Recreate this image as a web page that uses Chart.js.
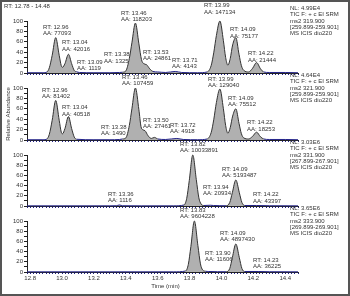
<!DOCTYPE html>
<html>
<head>
<meta charset="utf-8">
<script src="https://cdn.jsdelivr.net/npm/chart.js@4/dist/chart.umd.min.js"></script>
<style>
  html, body { margin: 0; padding: 0; background: #fff; }
  #wrap { position: relative; width: 350px; height: 296px; overflow: hidden; }
  #wrap canvas { position: absolute; left: 0; top: 0; }
  #frame { position: absolute; left: 0; top: 0; width: 350px; height: 296px; box-sizing: border-box; border: 2px solid #555; }
</style>
</head>
<body>
<div id="wrap">
  <canvas id="c1" width="350" height="296"></canvas>
  <canvas id="c2" width="350" height="296"></canvas>
  <canvas id="c3" width="350" height="296"></canvas>
  <canvas id="c4" width="350" height="296"></canvas>
  <div id="frame"></div>
</div>
<script>
// time window (min) and relative abundance range
const timeRange = [12.78, 14.48];
const yRange = [0, 100];

// traces: [time, relative abundance %]
const trace1 = [[12.78,0.5],[12.88,0.5],[12.905,2],[12.92,10],[12.938,34],[12.96,68],[12.982,34],[12.995,14],[13.003,11],
  [13.018,18],[13.04,36],[13.06,18],[13.076,5],[13.09,2.5],[13.11,1],[13.2,0.5],[13.3,0.5],[13.36,1],[13.38,1.5],
  [13.4,4],[13.422,28],[13.438,58],[13.46,96],[13.482,56],[13.498,26],[13.512,18],[13.53,16],[13.55,8],[13.57,3],[13.6,2],
  [13.65,1],[13.71,3],[13.75,1],[13.85,0.5],[13.91,2],[13.935,14],[13.952,40],[13.968,72],[13.99,100],[14.012,62],
  [14.026,30],[14.04,15],[14.055,28],[14.07,54],[14.09,68],[14.11,36],[14.125,14],[14.14,5],[14.17,2],[14.195,9],
  [14.22,20],[14.245,8],[14.265,2],[14.3,1],[14.4,1],[14.48,0.5]];
const trace2 = [[12.78,0.5],[12.88,0.5],[12.905,2],[12.92,11],[12.938,38],[12.96,76],[12.982,38],[12.995,15],[13.003,12],
  [13.018,22],[13.04,45],[13.06,22],[13.076,6],[13.09,1.5],[13.2,0.5],[13.3,0.5],[13.36,1],[13.38,2],[13.4,4],[13.422,28],
  [13.438,60],[13.46,100],[13.482,58],[13.495,26],[13.505,20],[13.52,18],[13.54,8],[13.56,3],[13.58,5],[13.6,2],[13.65,1],
  [13.72,3],[13.76,1],[13.85,0.5],[13.91,2],[13.935,14],[13.952,40],[13.968,72],[13.99,98],[14.012,60],[14.026,28],
  [14.04,13],[14.055,24],[14.07,46],[14.09,60],[14.11,32],[14.125,12],[14.14,4],[14.17,2],[14.195,7],[14.22,15],
  [14.245,6],[14.265,2],[14.3,1],[14.4,1],[14.48,0.5]];
const trace3 = [[12.78,0.3],[13.0,0.3],[13.3,0.3],[13.34,0.5],[13.36,2],[13.38,0.5],[13.5,0.3],[13.7,0.3],[13.765,2],
  [13.782,15],[13.798,50],[13.82,100],[13.842,52],[13.858,16],[13.872,4],[13.89,1],[13.93,1.5],[13.95,1],[14.03,0.5],
  [14.052,7],[14.068,26],[14.09,51],[14.112,26],[14.128,7],[14.145,1],[14.22,1],[14.3,0.5],[14.48,0.3]];
const trace4 = [[12.78,0.3],[13.3,0.3],[13.7,0.3],[13.775,2],[13.792,15],[13.808,50],[13.83,100],[13.852,52],[13.868,16],
  [13.882,4],[13.9,1.5],[13.92,1],[14.03,0.5],[14.052,7],[14.068,28],[14.09,55],[14.112,28],[14.128,7],[14.145,1],[14.23,1],
  [14.3,0.5],[14.48,0.3]];

// peak labels: [rt text, area text, anchor time, anchor abundance]
const peaks1 = [['RT: 12.96','AA: 77093',12.88,88],['RT: 13.04','AA: 42016',13.0,58],['RT: 13.09','AA: 1119',13.094,21],
  ['RT: 13.38','AA: 1325',13.263,35],['RT: 13.46','AA: 118203',13.37,115],['RT: 13.53','AA: 24861',13.508,40],
  ['RT: 13.71','AA: 4143',13.69,25],['RT: 13.99','AA: 147134',13.89,130],['RT: 14.09','AA: 75177',14.054,83],
  ['RT: 14.22','AA: 21444',14.166,37]];
const peaks2 = [['RT: 12.96','AA: 81402',12.874,96],['RT: 13.04','AA: 40518',13.0,62],['RT: 13.38','AA: 1490',13.244,25],
  ['RT: 13.46','AA: 107459',13.376,121],['RT: 13.50','AA: 27461',13.508,38],['RT: 13.72','AA: 4918',13.677,29],
  ['RT: 13.99','AA: 129040',13.915,117],['RT: 14.09','AA: 75512',14.041,81],['RT: 14.22','AA: 18253',14.16,33]];
const peaks3 = [['RT: 13.82','AA: 10033891',13.74,121],['RT: 13.36','AA: 1116',13.288,23],['RT: 13.94','AA: 20934',13.884,37],
  ['RT: 14.09','AA: 5193487',14.003,72],['RT: 14.22','AA: 43397',14.198,22]];
const peaks4 = [['RT: 13.83','AA: 9604228',13.74,121],['RT: 13.90','AA: 11606',13.897,37],['RT: 14.09','AA: 4897430',13.991,76],
  ['RT: 14.23','AA: 36225',14.198,23]];

// scan filter notes
const info1 = ['NL: 4.99E4','TIC F: + c EI SRM','ms2 319.900','[259.899-259.901]','MS ICIS dio220'];
const info2 = ['NL: 4.64E4','TIC F: + c EI SRM','ms2 321.900','[259.899-259.901]','MS ICIS dio220'];
const info3 = ['NL: 3.03E6','TIC F: + c EI SRM','ms2 331.900','[267.899-267.901]','MS ICIS dio220'];
const info4 = ['NL: 3.65E6','TIC F: + c EI SRM','ms2 333.900','[269.899-269.901]','MS ICIS dio220'];

const titleText = 'RT: 12.78 - 14.48';
const xTitle = 'Time (min)';
const yTitle = 'Relative Abundance';

Chart.defaults.font.family = '"Liberation Sans", Arial, sans-serif';
const FONT = '6px "Liberation Sans", Arial, sans-serif';
const INK = '#333';
const NAVY = '#23238a';

const panels = [
  { id: 'c1', trace: trace1, peaks: peaks1, info: info1, top: 21, bottom: 73 },
  { id: 'c2', trace: trace2, peaks: peaks2, info: info2, top: 88, bottom: 140 },
  { id: 'c3', trace: trace3, peaks: peaks3, info: info3, top: 155, bottom: 206 },
  { id: 'c4', trace: trace4, peaks: peaks4, info: info4, top: 221, bottom: 272 }
];

function isMajor(v) { return Math.abs(v * 5 - Math.round(v * 5)) < 1e-6; }

function makePanel(p, idx) {
  const last = idx === panels.length - 1;
  const textPlugin = {
    id: 'peakText' + idx,
    afterDatasetsDraw(chart) {
      const { ctx, chartArea, scales: { x, y } } = chart;
      ctx.save();
      ctx.font = FONT;
      ctx.fillStyle = INK;
      ctx.textBaseline = 'middle';
      ctx.textAlign = 'left';
      p.peaks.forEach(([rt, aa, lx, ly]) => {
        const px = x.getPixelForValue(lx), py = y.getPixelForValue(ly);
        ctx.fillText(rt, px, py);
        ctx.fillText(aa, px, py + 6.5);
      });
      p.info.forEach((t, k) => ctx.fillText(t, chartArea.right - 8, chartArea.top - 12.5 + k * 6.2));
      if (idx === 0) ctx.fillText(titleText, 4, 6);
      if (last) {
        ctx.textAlign = 'center';
        ctx.fillText(xTitle, (chartArea.left + chartArea.right) / 2 + 3, 286);
      }
      if (idx === 1) {
        ctx.translate(8, (chartArea.top + chartArea.bottom) / 2);
        ctx.rotate(-Math.PI / 2);
        ctx.textAlign = 'center';
        ctx.fillText(yTitle, 0, 0);
      }
      ctx.restore();
    }
  };

  return new Chart(document.getElementById(p.id), {
    type: 'line',
    data: {
      datasets: [{
        data: p.trace.map(d => ({ x: d[0], y: d[1] })),
        borderWidth: 1,
        pointRadius: 0,
        fill: 'origin',
        backgroundColor: '#b0b0b0',
        cubicInterpolationMode: 'monotone',
        clip: false,
        segment: {
          borderColor: c => (c.p0.parsed.y > 3 || c.p1.parsed.y > 3) ? '#333' : NAVY
        }
      }]
    },
    options: {
      responsive: false,
      animation: false,
      events: [],
      layout: { padding: { left: 0, right: 52, top: p.top, bottom: 0 } },
      plugins: { legend: { display: false }, tooltip: { enabled: false } },
      scales: {
        x: {
          type: 'linear',
          min: timeRange[0],
          max: timeRange[1],
          afterFit: s => { s.height = 296 - p.bottom; },
          border: { color: '#222', width: 1 },
          grid: { drawOnChartArea: false, tickLength: 2, tickColor: NAVY },
          ticks: {
            stepSize: 0.02, autoSkip: false, maxRotation: 0, maxTicksLimit: 200, padding: 1,
            font: { size: 6 }, color: INK,
            callback: v => (last && isMajor(v)) ? v.toFixed(1) : ''
          }
        },
        y: {
          min: yRange[0],
          max: yRange[1],
          afterFit: s => { s.width = 27; },
          border: { color: '#222', width: 1 },
          grid: { drawOnChartArea: false, tickLength: 3, tickColor: '#222' },
          ticks: {
            stepSize: 10, autoSkip: false, padding: 1,
            font: { size: 6 }, color: INK,
            callback: v => v % 20 === 0 ? v : ''
          }
        }
      }
    },
    plugins: [textPlugin]
  });
}

panels.forEach(makePanel);
</script>
</body>
</html>
